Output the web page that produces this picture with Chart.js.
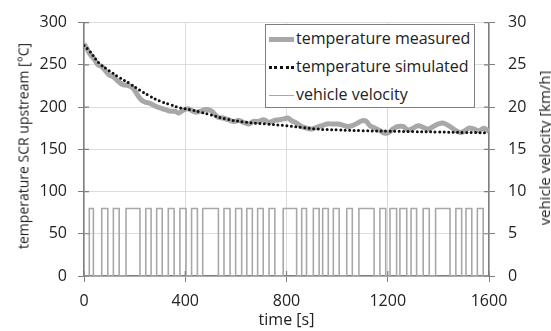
<!DOCTYPE html>
<html lang="en">
<head>
<meta charset="UTF-8">
<title>SCR upstream temperature and vehicle velocity</title>
<style>
  body { margin: 0; background: #fff; font-family: "Open Sans", sans-serif; }
  #wrap { position: relative; width: 551px; height: 331px; }
  #legend { position: absolute; left: 265px; top: 24px; width: 208px; height: 82px;
            border: 1.5px solid #7f7f7f; background: #fff; }
  .item { position: absolute; left: 3px; height: 20px; font-size: 16px; color: #222; line-height: 20px; white-space: nowrap; }
  .sample { display: inline-block; width: 25px; vertical-align: middle; margin-right: 2px; }
  .vtitle { position: absolute; transform: translate(-50%, -50%) rotate(-90deg);
            color: #222; white-space: nowrap; }
  #ytitle { left: 23px; top: 146px; font-size: 14px; }
  #ytitle2 { left: 544px; top: 148px; font-size: 15px; }
</style>
<script src="https://cdn.jsdelivr.net/npm/chart.js"></script>
</head>
<body>
<div id="wrap">
  <canvas id="chart" width="551" height="331"></canvas>
  <div id="legend">
    <div class="item" style="top:3px"><span class="sample" style="border-top:5px solid #a8a8a8"></span>temperature measured</div>
    <div class="item" style="top:31px"><span class="sample" style="border-top:3px dotted #111"></span>temperature simulated</div>
    <div class="item" style="top:59px"><span class="sample" style="border-top:1.5px solid #a8a8a8"></span>vehicle velocity</div>
  </div>
  <div id="ytitle" class="vtitle">temperature SCR upstream [°C]</div>
  <div id="ytitle2" class="vtitle">vehicle velocity [km/h]</div>
</div>
<script>
// measured temperature (s, °C)
const measuredTime = [0, 10, 25, 40, 55, 70, 85, 100, 115, 130, 150, 165, 180, 195, 210, 225, 240, 255, 270, 290,
  310, 330, 345, 360, 375, 390, 410, 425, 440, 460, 480, 500, 515, 530, 550, 570, 590, 610, 630, 650,
  670, 690, 710, 730, 750, 770, 790, 805, 820, 840, 860, 880, 900, 920, 940, 960, 980, 1000, 1020, 1040,
  1060, 1080, 1100, 1115, 1130, 1150, 1170, 1190, 1205, 1220, 1240, 1260, 1280, 1300, 1320, 1340, 1360, 1380, 1400, 1420,
  1440, 1460, 1475, 1490, 1505, 1520, 1540, 1560, 1580, 1600];
const measuredTemp = [275, 270, 262, 257, 250, 248, 243, 238, 236, 232, 227, 226, 225, 222, 215, 209, 206, 205, 203, 200,
  198, 196, 195, 195, 193, 196, 198, 196, 194, 195, 197, 196, 192, 188, 187, 185, 183, 184, 182, 180,
  183, 183, 185, 182, 184, 185, 186, 187, 184, 181, 177, 175, 174, 176, 178, 180, 180, 180, 179, 177,
  178, 181, 184, 183, 178, 175, 172, 169, 170, 174, 177, 177, 173, 175, 178, 176, 174, 177, 180, 181,
  178, 174, 171, 170, 172, 175, 174, 172, 175, 171];

// simulated temperature (s, °C)
const simulatedTime = [0, 20, 60, 100, 140, 180, 220, 260, 300, 340, 380, 420, 460, 500, 560, 640, 720, 800, 860, 920,
  1000, 1100, 1200, 1300, 1400, 1500, 1600];
const simulatedTemp = [273, 267, 252, 243, 235, 228, 220, 213, 207, 203, 199, 197, 194, 191, 186, 182, 180, 178, 176, 174,
  173, 172, 171.5, 171, 170.5, 170, 169.5];

// vehicle velocity: driving phases (s) at constant speed (km/h)
const pulseStart = [21, 70, 116, 166, 244, 287, 333, 379, 425, 469, 553, 599, 643, 686, 731, 787, 860, 906, 943, 985,
  1038, 1086, 1169, 1209, 1248, 1292, 1340, 1389, 1469, 1509, 1554];
const pulseEnd = [37, 94, 139, 221, 265, 309, 356, 403, 448, 531, 577, 623, 665, 708, 754, 840, 879, 929, 965, 1008,
  1060, 1146, 1192, 1235, 1275, 1314, 1364, 1446, 1492, 1532, 1577];
const pulseSpeed = 8;

const xTicks = [0, 400, 800, 1200, 1600];

const velocityPoints = [{ x: 0, y: 0 }];
pulseStart.forEach((s, i) => {
  velocityPoints.push({ x: s, y: 0 }, { x: s, y: pulseSpeed }, { x: pulseEnd[i], y: pulseSpeed }, { x: pulseEnd[i], y: 0 });
});
velocityPoints.push({ x: 1600, y: 0 });

const axisColor = '#7f7f7f';
const gridColor = '#dcdcdc';
const font = { family: 'Open Sans', size: 16 };

// small tick marks pointing into the plot area
const innerTicks = {
  id: 'innerTicks',
  afterDatasetsDraw(chart) {
    const { ctx, chartArea, scales } = chart;
    ctx.save();
    ctx.strokeStyle = axisColor;
    ctx.lineWidth = 1.2;
    ctx.beginPath();
    scales.y.ticks.forEach(t => {
      const py = scales.y.getPixelForValue(t.value);
      ctx.moveTo(chartArea.left, py); ctx.lineTo(chartArea.left + 5, py);
      ctx.moveTo(chartArea.right, py); ctx.lineTo(chartArea.right - 5, py);
    });
    scales.x.ticks.forEach(t => {
      const px = scales.x.getPixelForValue(t.value);
      ctx.moveTo(px, chartArea.bottom); ctx.lineTo(px, chartArea.bottom - 5);
    });
    ctx.stroke();
    ctx.restore();
  }
};

new Chart(document.getElementById('chart'), {
  type: 'line',
  data: {
    datasets: [
      {
        label: 'temperature simulated',
        data: simulatedTime.map((t, i) => ({ x: t, y: simulatedTemp[i] })),
        borderColor: '#111',
        borderWidth: 3,
        borderDash: [0, 4.5],
        borderCapStyle: 'round',
        pointRadius: 0,
        tension: 0.4,
        yAxisID: 'y',
        order: 0
      },
      {
        label: 'temperature measured',
        data: measuredTime.map((t, i) => ({ x: t, y: measuredTemp[i] })),
        borderColor: '#a8a8a8',
        borderWidth: 5,
        pointRadius: 0,
        tension: 0.4,
        yAxisID: 'y',
        order: 1
      },
      {
        label: 'vehicle velocity',
        data: velocityPoints,
        borderColor: '#a8a8a8',
        borderWidth: 1.6,
        pointRadius: 0,
        tension: 0,
        yAxisID: 'y2',
        order: 2
      }
    ]
  },
  options: {
    responsive: false,
    animation: false,
    layout: { padding: { top: 16, left: 0, right: 0, bottom: 0 } },
    plugins: { legend: { display: false }, tooltip: { enabled: false } },
    scales: {
      x: {
        type: 'linear',
        min: 0, max: 1600,
        afterBuildTicks: s => { s.ticks = xTicks.map(v => ({ value: v })); },
        ticks: { font, color: '#222', padding: 10, maxRotation: 0, callback: v => String(v) },
        grid: { color: gridColor, tickColor: axisColor, tickLength: 6 },
        border: { color: axisColor, width: 1.5 },
        title: { display: true, text: 'time [s]', font, color: '#222', padding: { top: 0, bottom: 1 } },
        afterFit: s => { s.height = 55; }
      },
      y: {
        position: 'left',
        min: 0, max: 300,
        ticks: { stepSize: 50, font, color: '#222', padding: 11 },
        grid: { color: gridColor, tickColor: axisColor, tickLength: 6 },
        border: { color: axisColor, width: 1.5 },
        afterFit: s => { s.width = 84; }
      },
      y2: {
        position: 'right',
        min: 0, max: 30,
        ticks: { stepSize: 5, font, color: '#222', padding: 13 },
        grid: { drawOnChartArea: false, tickColor: axisColor, tickLength: 6 },
        border: { color: axisColor, width: 1.5 },
        afterFit: s => { s.width = 62; }
      }
    }
  },
  plugins: [innerTicks]
});
</script>
</body>
</html>
